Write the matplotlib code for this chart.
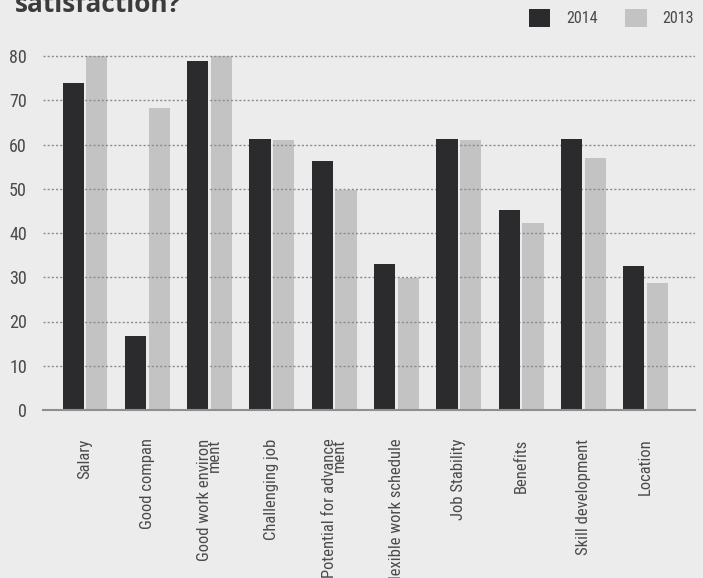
import matplotlib
matplotlib.use("Agg")
import matplotlib.pyplot as plt
from matplotlib.patches import Patch
from matplotlib import font_manager as fm

categories = ["Salary", "Good compan", "Good work environ\nment", "Challenging job",
              "Potential for advance\nment", "Flexible work schedule", "Job Stability",
              "Benefits", "Skill development", "Location"]
values_2014 = [74.0, 16.8, 78.8, 61.2, 56.3, 33.0, 61.3, 45.3, 61.3, 32.6]
values_2013 = [80.0, 68.2, 80.0, 61.0, 49.8, 29.8, 61.0, 42.2, 57.0, 28.6]
series_names = ["2014", "2013"]
yticks = [0, 10, 20, 30, 40, 50, 60, 70, 80]
title = "satisfaction?"


def find_narrow():
    prefs = ["liberationsansnarrow-regular", "robotocondensed-regular", "dejavusanscondensed.ttf",
             "notosans-condensed.ttf", "notosanscondensed-regular", "opensans-condensed",
             "opensanscondensed"]
    files = [f.fname for f in fm.fontManager.ttflist]
    for p in prefs:
        for fn in files:
            if p in fn.lower().replace("_", "").replace(" ", ""):
                return fn
    for f in fm.fontManager.ttflist:
        low = f.fname.lower()
        if ("condensed" in low or "narrow" in low) and "bold" not in low and "italic" not in low \
                and "oblique" not in low and "light" not in low and "semi" not in low:
            return f.fname
    return None


nf = find_narrow()


def fp(size):
    if nf:
        return fm.FontProperties(fname=nf, size=size)
    return fm.FontProperties(family="DejaVu Sans", size=size * 0.85)


BG = "#edecec"
DARK = "#2b2a2c"
LIGHT = "#c4c3c4"
TXT = "#4a4a4a"

W, H = 703, 578
fig = plt.figure(figsize=(W / 100, H / 100), dpi=100, facecolor=BG)
ymax = 80.5
px_per_unit = (410 - 56) / 80.0
top_px = 410 - ymax * px_per_unit
ax = fig.add_axes([43 / W, 1 - 410 / H, (695 - 43) / W, (410 - top_px) / H])
ax.set_facecolor(BG)

x = list(range(len(categories)))
off = 0.19
bw = 0.34
ax.bar([i + off for i in x], values_2013, width=bw, color=LIGHT, zorder=1)
ax.bar([i - off for i in x], values_2014, width=bw, color=DARK, zorder=3)

ax.set_xlim((43 - 85) / 62.3, (695 - 85) / 62.3)
ax.set_ylim(0, ymax)
ax.set_yticks(yticks)
ax.set_yticklabels([str(t) for t in yticks], color=TXT)
for lab in ax.get_yticklabels():
    lab.set_fontproperties(fp(13))
ax.yaxis.grid(True, linestyle=(0, (1.5, 1.5)), color="#8c8c8c", linewidth=1.0)
ax.set_axisbelow(False)
ax.tick_params(axis='y', length=0, pad=11.5)

ax.set_xticks(x)
ax.set_xticklabels(categories, rotation=90, color=TXT, va='top', ha='center')
ax.tick_params(axis='x', length=0, pad=20.5)
for lab in ax.get_xticklabels():
    lab.set_fontproperties(fp(12))
    lab.set_linespacing(0.55)
    lab.set_multialignment('right')

for s in ['top', 'right', 'left']:
    ax.spines[s].set_visible(False)
ax.spines['bottom'].set_color("#8f8f8f")
ax.spines['bottom'].set_linewidth(1.5)
ax.spines['bottom'].set_zorder(4)

fig.text(15 / W, 1 - 11.5 / H, title, fontsize=18.9, fontweight='bold', color="#3b3a3c",
         family=['Open Sans', 'DejaVu Sans'], ha='left', va='baseline')

handles = [Patch(facecolor=DARK, edgecolor='none'), Patch(facecolor=LIGHT, edgecolor='none')]
leg = fig.legend(handles, series_names, loc='upper right', bbox_to_anchor=(694 / W, 1 - 9 / H),
                 ncol=2, frameon=False, prop=fp(11.5), handlelength=1.35, handleheight=1.35,
                 handletextpad=1.0, columnspacing=1.7, borderpad=0, borderaxespad=0)
for t in leg.get_texts():
    t.set_color(TXT)

fig.savefig("out.png", dpi=100, facecolor=BG)
